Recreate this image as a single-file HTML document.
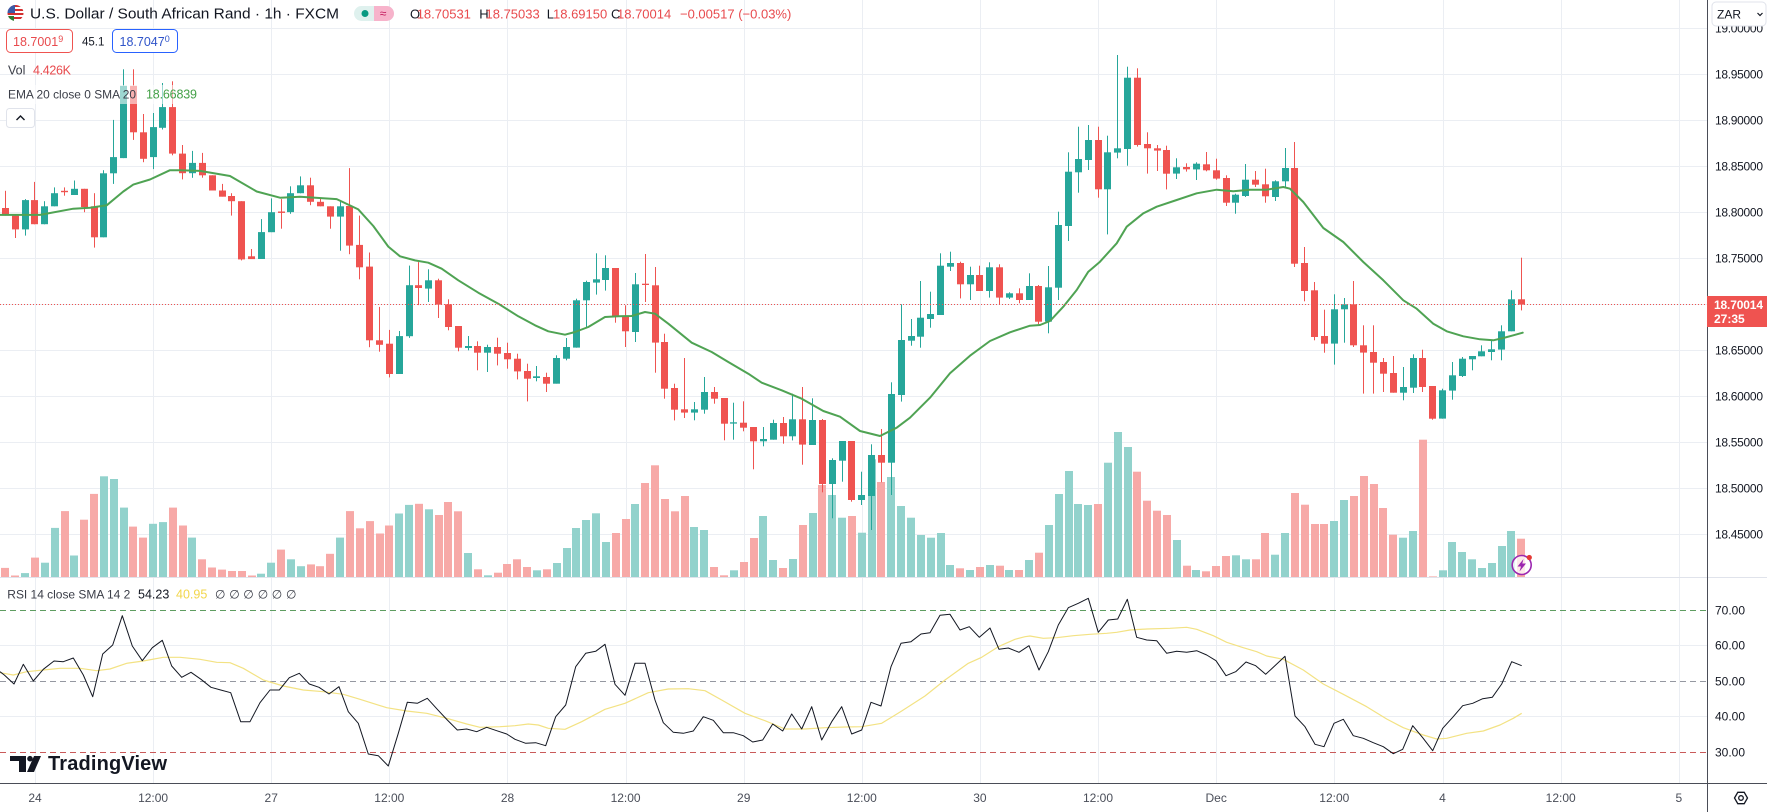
<!DOCTYPE html>
<html><head><meta charset="utf-8">
<style>
html,body{margin:0;padding:0;background:#fff;}
body{width:1767px;height:812px;overflow:hidden;}
svg{display:block;font-family:"Liberation Sans",Arial,sans-serif;}
</style></head><body>
<svg width="1767" height="812" viewBox="0 0 1767 812">
<rect width="1767" height="812" fill="#ffffff"/>
<g id="grid"></g>
<g id="rsilv">
<line x1="0" y1="610.5" x2="1707" y2="610.5" stroke="#5e9d61" stroke-width="1" stroke-dasharray="6,4"/>
<line x1="0" y1="681.5" x2="1707" y2="681.5" stroke="#9598a1" stroke-width="1" stroke-dasharray="6,4"/>
<line x1="0" y1="752.5" x2="1707" y2="752.5" stroke="#c95a5a" stroke-width="1" stroke-dasharray="6,4"/>
</g>
<g id="vol"></g>
<g id="candles"></g>
<g id="ema"></g>
<g id="rsi"></g>
<line x1="0" y1="304.5" x2="1707" y2="304.5" stroke="#ef5350" stroke-width="1" stroke-dasharray="1,2"/>

<!-- lightning icon -->
<circle cx="1521.7" cy="565" r="9.5" fill="#ffffff" fill-opacity="0.75" stroke="#9c27b0" stroke-width="1.6"/>
<polygon points="1523.5,559 1517.5,566.5 1521,566.5 1519.5,571.5 1526,563.5 1522.3,563.5" fill="#9c27b0"/>
<circle cx="1529.3" cy="557.5" r="2.6" fill="#e53935"/>

<!-- legend translucent -->
<rect x="4" y="85" width="196" height="19" fill="#ffffff" fill-opacity="0.55"/>

<!-- header -->
<g>
  <circle cx="15.5" cy="13" r="8" fill="#ffffff"/>
  <clipPath id="fc"><circle cx="15.5" cy="13" r="8"/></clipPath>
  <g clip-path="url(#fc)">
    <rect x="7" y="5" width="17" height="17" fill="#ffffff"/>
    <rect x="7" y="5" width="17" height="2" fill="#d32f2f"/>
    <rect x="7" y="9" width="17" height="2" fill="#d32f2f"/>
    <rect x="7" y="13" width="17" height="2" fill="#d32f2f"/>
    <rect x="7" y="17" width="17" height="2" fill="#d32f2f"/>
    <rect x="7" y="5" width="8" height="8" fill="#3c5aa6"/>
    <rect x="7" y="16" width="7" height="6" fill="#2e7d32"/>
  </g>
  <text x="30" y="18.5" font-size="15" fill="#131722" textLength="309" lengthAdjust="spacingAndGlyphs">U.S. Dollar / South African Rand · 1h · FXCM</text>
  <rect x="354" y="6" width="40" height="15" rx="7.5" fill="#dff1ee"/>
  <path d="M374 6 H386.5 A7.5 7.5 0 0 1 386.5 21 H374 Z" fill="#f7b3cb"/>
  <circle cx="365" cy="13.5" r="3.5" fill="#089981"/>
  <text x="383" y="17.5" font-size="12" fill="#c2185b" text-anchor="middle">≈</text>
  <text y="18.3" font-size="13">
    <tspan x="410" fill="#131722">O</tspan><tspan x="416.7" fill="#e84a4d">18.70531</tspan>
    <tspan x="479.3" fill="#131722">H</tspan><tspan x="485.5" fill="#e84a4d">18.75033</tspan>
    <tspan x="546.7" fill="#131722">L</tspan><tspan x="553" fill="#e84a4d">18.69150</tspan>
    <tspan x="611" fill="#131722">C</tspan><tspan x="617" fill="#e84a4d">18.70014</tspan>
    <tspan x="680" fill="#e84a4d">−0.00517 (−0.03%)</tspan>
  </text>

  <rect x="6.5" y="29.5" width="66" height="23" rx="4" fill="#ffffff" stroke="#ef5350" stroke-width="1"/>
  <text x="13" y="46" font-size="12.5" fill="#e84a4d">18.7001<tspan font-size="9" dy="-4">9</tspan></text>
  <text x="82" y="45.5" font-size="11.5" fill="#131722">45.1</text>
  <rect x="112.5" y="29.5" width="65" height="23" rx="4" fill="#ffffff" stroke="#2962ff" stroke-width="1"/>
  <text x="119.5" y="46" font-size="12.5" fill="#2f54c9">18.7047<tspan font-size="9" dy="-4">0</tspan></text>

  <text x="8" y="74.5" font-size="12.5" fill="#3b3e48">Vol</text>
  <text x="33" y="74.5" font-size="12.5" fill="#e84a4d" textLength="38">4.426K</text>
  <text x="8" y="98.5" font-size="12" fill="#3b3e48" textLength="128" lengthAdjust="spacingAndGlyphs">EMA 20 close 0 SMA 20</text>
  <text x="146" y="98.5" font-size="12.5" fill="#43a047" textLength="51">18.66839</text>

  <rect x="6.5" y="108.5" width="28" height="19" rx="3" fill="#ffffff" stroke="#e0e3eb"/>
  <polyline points="16.5,120 20.5,116 24.5,120" fill="none" stroke="#131722" stroke-width="1.4"/>
</g>

<!-- RSI legend -->
<text x="7.3" y="598.5" font-size="12" fill="#3b3e48" textLength="123">RSI 14 close SMA 14 2</text>
<text x="138" y="598.5" font-size="12.5" fill="#131722">54.23</text>
<text x="176" y="598.5" font-size="12.5" fill="#f2d64b">40.95</text>
<text y="598.5" font-size="12" fill="#3b3e48"><tspan x="215">∅</tspan><tspan x="229.3">∅</tspan><tspan x="243.3">∅</tspan><tspan x="257.7">∅</tspan><tspan x="271.7">∅</tspan><tspan x="286">∅</tspan></text>

<!-- TradingView logo -->
<g fill="#131722">
  <rect x="10" y="756" width="16" height="5"/>
  <rect x="19" y="756" width="7" height="16"/>
  <circle cx="30" cy="758.7" r="2.8"/>
  <polygon points="34,756 41,756 34,772 27,772"/>
</g>
<text x="48" y="770" font-size="20" font-weight="bold" fill="#131722" textLength="119">TradingView</text>

<!-- right axis -->
<rect x="1707" y="0" width="60" height="812" fill="#ffffff"/>
<line x1="0" y1="577.5" x2="1767" y2="577.5" stroke="#e0e3eb" stroke-width="1"/>
<line x1="0" y1="783.5" x2="1767" y2="783.5" stroke="#4a4d57" stroke-width="1"/>
<line x1="1707.5" y1="0" x2="1707.5" y2="812" stroke="#4a4d57" stroke-width="1"/>
<g font-size="12" fill="#131722">
  <text x="1715" y="32.5" textLength="48">19.00000</text>
  <text x="1715" y="78.3" textLength="48">18.95000</text>
  <text x="1715" y="124.3" textLength="48">18.90000</text>
  <text x="1715" y="170.3" textLength="48">18.85000</text>
  <text x="1715" y="216.3" textLength="48">18.80000</text>
  <text x="1715" y="262.3" textLength="48">18.75000</text>
  <text x="1715" y="354.3" textLength="48">18.65000</text>
  <text x="1715" y="400.3" textLength="48">18.60000</text>
  <text x="1715" y="446.3" textLength="48">18.55000</text>
  <text x="1715" y="492.3" textLength="48">18.50000</text>
  <text x="1715" y="538.3" textLength="48">18.45000</text>
  <text x="1715" y="614.6">70.00</text>
  <text x="1715" y="649.6">60.00</text>
  <text x="1715" y="685.3">50.00</text>
  <text x="1715" y="720.6">40.00</text>
  <text x="1715" y="756.6">30.00</text>
</g>
<rect x="1712" y="2" width="54" height="24" rx="4" fill="#ffffff" stroke="#e0e3eb"/>
<text x="1717" y="18.5" font-size="12" fill="#131722">ZAR</text>
<polyline points="1757.5,13 1760,15.5 1762.5,13" fill="none" stroke="#131722" stroke-width="1.2"/>

<rect x="1707" y="296" width="60" height="31" fill="#ef5350"/>
<text x="1714" y="309" font-size="12" font-weight="bold" fill="#ffffff" textLength="49">18.70014</text>
<text x="1714" y="323" font-size="12" font-weight="bold" fill="#ffffff">27:35</text>

<!-- time axis -->
<g font-size="12" fill="#4a4e59" text-anchor="middle">
  <text x="35" y="802">24</text>
  <text x="153.1" y="802">12:00</text>
  <text x="271.2" y="802">27</text>
  <text x="389.3" y="802">12:00</text>
  <text x="507.5" y="802">28</text>
  <text x="625.6" y="802">12:00</text>
  <text x="743.7" y="802">29</text>
  <text x="861.8" y="802">12:00</text>
  <text x="979.9" y="802">30</text>
  <text x="1098" y="802">12:00</text>
  <text x="1216.2" y="802">Dec</text>
  <text x="1334.3" y="802">12:00</text>
  <text x="1442.5" y="802">4</text>
  <text x="1560.7" y="802">12:00</text>
  <text x="1678.8" y="802">5</text>
</g>
<polygon points="1734.5,798 1737.8,792.3 1744.2,792.3 1747.5,798 1744.2,803.7 1737.8,803.7" fill="none" stroke="#131722" stroke-width="1.3"/>
<circle cx="1741" cy="798" r="2.3" fill="none" stroke="#131722" stroke-width="1.3"/>
</svg>
<script>
(function(){
function X(i){return 5.47+i*9.843;}
var SEG=[
{s:0,y0:40,ky:2.904,
C:[[0,438,488,510,510],[0,510,510,550,575],[1,462,465,550,568],[0,412,465,535,535],[1,468,483,535,535],[1,428,445,483,483],[0,428,438,442,452],[1,408,432,450,450],[0,432,432,485,500],[0,445,483,573,603],[1,378,387,573,573],[1,232,340,387,418],[1,85,133,343,343],[0,85,133,268,290],[0,215,268,345,355],[1,212,253,340,375],[1,125,195,255,260],[0,120,195,330,335],[0,305,330,387,405],[1,322,357,387,400],[0,328,357,393,400],[0,393,393,437,437],[0,418,437,455,455],[0,445,453,468,510],[0,468,468,637,640],[0,607,628,636,636],[1,520,558,636,636],[1,460,500,558,558],[0,462,498,502,548],[1,425,445,500,505],[1,396,422,445,445],[0,400,422,470,480],[0,460,470,483,483],[0,483,483,513,548],[1,465,483,513,612],[0,372,482,597,622],[0,510,595,660,695],[0,617,658,872,892],[0,775,872,885,905],[0,842,882,970,980],[1,845,860,970,970],[1,655,712,860,865],[0,645,712,720,770]],
V:[1533,1555,1548,1503,1518,1417,1368,1497,1393,1318,1267,1275,1358,1413,1445,1405,1400,1358,1410,1445,1508,1532,1538,1542,1542,1555,1550,1518,1480,1508,1528,1523,1528,1492,1445,1368,1418,1397,1433,1410,1375,1350,1347]},
{s:43,y0:52,ky:3,
C:[[1,652,685,710,750],[0,680,685,758,798],[0,742,757,825,835],[0,822,822,887,898],[1,852,882,888,895],[0,868,882,902,955],[1,878,885,902,960],[0,857,885,905,940],[0,872,903,922,950],[0,905,920,958,982],[0,935,957,980,1048],[1,942,973,978,988],[0,962,975,995,1020],[1,910,918,995,995],[1,858,885,920,925],[1,740,745,887,887],[1,686,690,745,825],[1,604,682,692,728],[1,610,648,684,716],[0,648,648,795,812],[0,760,793,838,885],[1,663,697,840,870],[0,606,695,699,750],[0,645,700,872,962],[0,845,870,1010,1040],[0,995,1008,1073,1105],[0,918,1072,1082,1098],[1,1050,1072,1082,1105],[1,975,1020,1073,1085],[0,1005,1020,1040,1055],[0,1038,1038,1115,1165],[1,1052,1111,1115,1163],[0,1048,1112,1127,1138],[0,1125,1125,1168,1252],[1,1125,1161,1168,1183],[1,1103,1113,1163,1163],[0,1095,1113,1153,1175],[1,1025,1102,1153,1165],[0,1005,1102,1178,1238]],
V:[1372,1389,1350,1378,1503,1552,1570,1562,1536,1522,1545,1555,1552,1533,1488,1428,1404,1384,1470,1443,1401,1356,1293,1240,1341,1378,1332,1425,1434,1545,1570,1555,1530,1458,1392,1524,1548,1521,1419]},
{s:82,y0:45,ky:3,
C:[[1,1060,1125,1200,1200],[0,1122,1125,1317,1342],[1,1240,1245,1317,1420],[1,1188,1188,1247,1310],[0,1188,1188,1365,1370],[1,1280,1350,1365,1380],[1,1198,1230,1353,1455],[0,1152,1230,1253,1312],[1,1012,1047,1253,1350],[1,778,885,1050,1070],[1,822,873,887,902],[1,708,818,875,908],[1,740,807,822,848],[1,625,662,810,810],[1,620,654,665,678],[0,650,654,718,760],[1,665,690,718,765],[0,662,690,738,738],[1,652,667,738,758],[0,658,667,758,778],[1,742,745,758,762],[0,730,745,765,775],[1,685,723,765,765],[0,720,723,830,838],[1,663,727,830,865],[1,500,540,728,765],[1,322,380,543,588],[1,245,342,382,443],[1,240,285,345,375],[0,245,285,433,458],[1,272,322,433,568],[1,30,310,323,340],[1,65,98,312,362],[0,70,98,300,305],[0,262,297,310,386],[0,300,310,317,378],[0,302,315,386,433],[1,340,367,386,402],[0,355,366,373,380],[1,352,356,373,405]],
V:[1404,1320,1350,1418,1413,1463,1243,1311,1296,1383,1418,1470,1478,1464,1560,1570,1575,1566,1560,1562,1575,1575,1545,1523,1440,1347,1278,1377,1380,1377,1253,1161,1206,1280,1367,1397,1410,1485,1562,1575]},
{s:122,y0:52,ky:3,
C:[[0,300,337,355,358],[0,320,355,380,383],[0,370,378,452,462],[1,425,428,452,485],[1,336,383,432,435],[0,357,383,398,405],[0,350,397,433,452],[1,385,388,435,447],[1,288,348,388,408],[0,270,348,635,645],[0,585,633,717,748],[0,690,715,855,865],[0,773,852,875,902],[1,727,772,875,938],[1,738,757,772,872],[0,687,757,880,885],[0,820,880,902,1025],[0,820,900,932,1025],[0,918,930,965,1020],[0,912,963,1022,1022],[1,945,1005,1022,1045],[1,907,918,1007,1023],[0,893,918,1005,1020],[0,1002,1002,1100,1103],[1,1010,1015,1100,1100],[1,930,970,1016,1043],[1,915,920,972,975],[1,912,912,922,955],[1,880,898,913,913],[1,865,892,900,925],[1,820,838,893,925],[1,715,742,838,838],[0,617,742,758,775]],
V:[1558,1542,1512,1510,1522,1522,1443,1508,1443,1323,1358,1416,1416,1407,1344,1332,1272,1296,1368,1448,1457,1437,1163,1578,1555,1470,1500,1522,1548,1533,1482,1437,1460]}
];
var vh='',ch='';
SEG.forEach(function(sg){
  function f(z){return sg.y0+z/sg.ky;}
  sg.C.forEach(function(c,k){
    var i=sg.s+k,x=X(i),g=c[0];
    var col=g?'#26a69a':'#ef5350',vcol=g?'#92d2cc':'#f7a9a7';
    var vt=f(sg.V[k]);var vhgt=577-vt;if(vhgt<0.6)vhgt=0.6;if(vt>576.4)vt=576.4;
    vh+='<rect x="'+Math.round(x-4)+'" y="'+vt.toFixed(1)+'" width="8" height="'+vhgt.toFixed(1)+'" fill="'+vcol+'"/>';
    var L=Math.round(x-3.5);
    var y1=f(c[1]),y2=f(c[2]),y3=f(c[3]),y4=f(c[4]);
    var bh=y3-y2;if(bh<1.2)bh=1.2;
    ch+='<rect x="'+(L+3)+'" y="'+y1.toFixed(1)+'" width="1" height="'+Math.max(y4-y1,1).toFixed(1)+'" fill="'+col+'"/>';
    ch+='<rect x="'+L+'" y="'+y2.toFixed(1)+'" width="7" height="'+bh.toFixed(1)+'" fill="'+col+'"/>';
  });
});
document.getElementById('vol').innerHTML=vh;
document.getElementById('candles').innerHTML=ch;

/* grid */
var gh='';
[3,15,27,39,51,63,75,87,99,111,123,135,146,158,170].forEach(function(i){
  var x=Math.round(X(i))+0.5;
  gh+='<line x1="'+x+'" y1="0" x2="'+x+'" y2="783" stroke="#ebeef3" stroke-width="1"/>';
});
[28,74,120,166,212,258,304,350,396,442,488,534].forEach(function(y){
  gh+='<line x1="0" y1="'+(y+0.5)+'" x2="1707" y2="'+(y+0.5)+'" stroke="#ebeef3" stroke-width="1"/>';
});
[645,716].forEach(function(y){
  gh+='<line x1="0" y1="'+(y+0.5)+'" x2="1707" y2="'+(y+0.5)+'" stroke="#ebeef3" stroke-width="1"/>';
});
document.getElementById('grid').innerHTML=gh;

function pts(list){return list.map(function(p){return p[0].toFixed(1)+','+p[1].toFixed(1);}).join(' ');}
function conv(arr,x0,kx,y0,ky){return arr.map(function(p){return [x0+p[0]/kx,y0+p[1]/ky];});}

/* EMA */
var e=[].concat(
 conv([[0,508],[120,508],[220,490],[270,487],[320,480],[370,440],[400,420],[450,405],[510,378],[540,378],[600,380],[690,395],[770,440],[840,458],[900,455],[1010,462],[1075,492],[1120,540],[1165,600],[1200,628],[1245,640]],0,3,40,2.904),
 conv([[40,632],[80,650],[130,685],[190,722],[250,755],[310,793],[360,820],[400,838],[450,848],[480,840],[520,825],[570,795],[610,793],[650,792],[690,780],[720,785],[760,815],[830,872],[890,900],[940,930],[1000,965],[1040,992],[1100,1015],[1160,1040]],415,3,52,3),
 conv([[40,1098],[90,1115],[150,1158],[210,1173],[260,1148],[300,1118],[360,1058],[420,985],[480,932],[540,888],[600,862],[660,842],[690,840],[720,828],[760,785],[800,735],[835,680],[870,650],[920,595],[950,545],[1000,505],[1040,485],[1100,465],[1160,445]],810,3,45,3),
 conv([[50,413],[100,418],[150,413],[200,413],[250,405],[270,410],[310,450],[370,528],[430,570],[490,630],[550,685],[610,745],[650,770],[700,815],[740,838],[790,853],[840,862],[880,865],[910,858],[940,850],[968,842]],1200,3,52,3)
);
document.getElementById('ema').innerHTML='<polyline points="'+pts(e)+'" fill="none" stroke="#4fa353" stroke-width="2" stroke-linejoin="round" stroke-linecap="round"/>';

/* RSI */
var r=[].concat(
 conv([[0,275],[13,285],[42,312],[70,253],[100,303],[130,268],[162,243],[190,245],[220,234],[250,285],[278,350],[308,222],[338,195],[367,107],[397,198],[427,242],[457,203],[487,181],[515,258],[545,292],[573,277],[603,298],[633,322],[662,330],[692,338],[722,425],[750,425],[780,368],[810,330],[838,330],[868,293],[898,280],[928,312],[957,322],[987,342],[1017,320],[1045,395],[1075,430],[1105,522],[1135,527],[1165,558],[1195,460],[1222,367],[1252,370],[1282,355],[1312,388],[1342,420],[1372,450],[1400,447],[1430,455],[1460,442],[1490,452],[1520,462]],0,3,580,3),
 conv([[0,478],[32,490],[62,488],[92,497],[122,410],[152,375],[182,260],[212,220],[242,214],[270,193],[300,313],[330,346],[360,250],[390,250],[420,360],[445,428],[475,457],[505,460],[535,453],[565,410],[595,421],[625,458],[655,458],[685,467],[713,486],[743,480],[773,432],[803,453],[830,402],[860,447],[890,380],[920,480],[950,425],[980,380],[1010,462],[1040,450],[1068,367],[1098,378],[1128,260],[1158,190],[1188,185],[1218,162],[1245,158],[1275,106],[1305,103],[1335,150],[1363,140],[1393,172],[1425,144],[1452,208],[1480,204],[1512,217],[1542,197]],515,3,580,3),
 conv([[27,270],[55,215],[85,135],[115,83],[145,70],[175,55],[205,157],[235,120],[263,117],[292,58],[320,172],[350,180],[380,182],[410,220],[440,214],[470,217],[500,212],[530,225],[558,242],[588,287],[617,275],[648,246],[677,257],[707,283],[737,255],[765,229],[795,408],[825,440],[855,493],[882,500],[912,430],[940,418],[970,467],[1000,475],[1030,488],[1060,500],[1090,521],[1118,508],[1148,437],[1178,473],[1208,512],[1238,445],[1268,412],[1298,377],[1328,370],[1358,356],[1387,352],[1415,312],[1445,245],[1475,257]],1030,3,580,3)
);
var s=[].concat(
 conv([[0,278],[40,285],[80,275],[130,270],[180,265],[240,265],[290,272],[330,267],[380,250],[430,243],[490,232],[540,232],[600,238],[650,247],[690,248],[730,265],[790,300],[850,318],[910,330],[970,335],[1030,343],[1080,358],[1160,383],[1220,393],[1280,400],[1340,415],[1400,432],[1440,442],[1500,440]],0,3,580,3),
 conv([[0,437],[40,432],[70,435],[100,445],[150,448],[200,425],[270,388],[330,370],[400,338],[460,327],[520,326],[570,332],[620,360],[690,400],[750,422],[810,447],[870,447],[930,443],[990,441],[1040,440],[1100,430],[1160,393],[1230,348],[1290,300],[1360,250],[1400,232],[1450,200],[1500,178],[1530,170]],515,3,580,3),
 conv([[0,168],[40,175],[80,173],[130,167],[180,163],[230,160],[260,157],[300,150],[350,147],[420,145],[470,142],[500,148],[550,167],[590,187],[640,203],[680,215],[710,228],[760,238],[820,270],[880,312],[940,343],[1010,380],[1070,417],[1120,443],[1180,465],[1220,477],[1250,475],[1310,460],[1360,453],[1410,435],[1450,415],[1475,400]],1030,3,580,3)
);
document.getElementById('rsi').innerHTML=
 '<polyline points="'+pts(s)+'" fill="none" stroke="#f3e283" stroke-width="1.2" stroke-linejoin="round"/>'+
 '<polyline points="'+pts(r)+'" fill="none" stroke="#131722" stroke-width="1" stroke-linejoin="round"/>';
})();
</script>
</body></html>
